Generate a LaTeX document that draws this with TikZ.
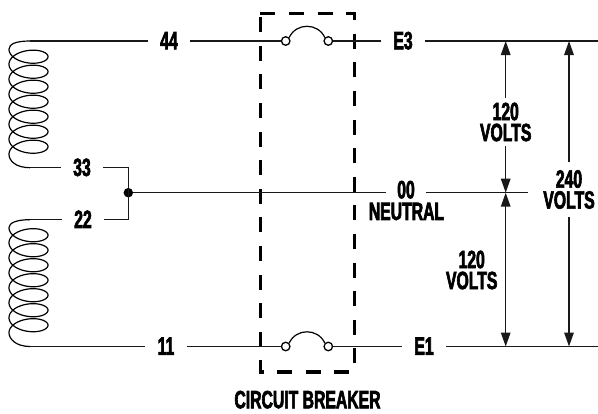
\documentclass[tikz,border=0pt]{standalone}
\usepackage{fontspec}
\usetikzlibrary{arrows.meta,calc}
\newfontfamily\lblfont[FakeStretch=0.63,FakeBold=2.5]{Liberation Sans Bold}
\tikzset{
  wire/.style={line width=1.5pt,black!90},
  coilline/.style={line width=1.2pt,black},
  lab/.style={font=\lblfont\fontsize{25}{21}\selectfont,inner ysep=0pt,inner xsep=12pt,text height=16.5pt,text depth=0pt,text=black},
  mlab/.style={font=\lblfont\fontsize{25}{21}\selectfont,inner ysep=4.5pt,inner xsep=0pt,align=center,text=black},
  contact/.style={circle,draw=black,line width=1.3pt,fill=white,minimum size=8.5pt,inner sep=0pt},
  dim/.style={line width=1.5pt,black!90},
  tipped/.style={-{Triangle[length=14pt,width=9.5pt]}},
  breaker/.style={line width=3.6pt,black,dash pattern=on 15pt off 13.6pt}
}
\begin{document}
\begin{tikzpicture}[x=1pt,y=-1pt]
\useasboundingbox (0,0) rectangle (598,413);
% dashed box
\draw[breaker] (260.3,13.3) -- (354.3,13.3) -- (354.3,372) -- (260.3,372) -- cycle;
% labels
\node[lab] (n44) at (169,41) {44};
\node[lab] (n33) at (82,167.7) {33};
\node[lab] (n22) at (83,219.7) {22};
\node[lab] (n11) at (166,346.5) {11};
\node[lab] (nE3) at (403,41) {E3};
\node[lab] (nE1) at (424,346.5) {E1};
\node[lab,inner xsep=11pt] (n00) at (406,190) {00};
\node[lab] (nNeutral) at (406.5,211.7) {NEUTRAL};
\node[lab] (nBreaker) at (307.5,400) {CIRCUIT BREAKER};
\node[mlab] (v1) at (505.7,122) {120\\VOLTS};
\node[mlab] (v2) at (471.7,270) {120\\VOLTS};
\node[mlab,inner ysep=8pt] (v3) at (569,189.5) {240\\VOLTS};
% coordinates
\coordinate (a1) at (30,41);
\coordinate (a2) at (30,167.7);
\coordinate (b1) at (30,219.7);
\coordinate (b2) at (30,346.5);
\coordinate (tee) at (128.3,167.7);
\coordinate (bee) at (128.3,219.7);
\coordinate (topend) at (598,41);
\coordinate (botend) at (598,346.5);
\coordinate (midend) at (527.7,192.7);
\coordinate (t1) at (505.7,41);
\coordinate (t2) at (569,41);
\coordinate (m1) at (505.7,192.7);
\coordinate (u1) at (505.7,346.5);
\coordinate (u2) at (569,346.5);
\node[circle,fill=black,minimum size=9.5pt,inner sep=0pt] (j) at (128.3,192.7) {};
% coils
\draw[coilline] (a1) .. controls (16,41) and (9,44) .. (9,49.2)
  -- plot[domain=0:2520,samples=400] ({28.5-19.5*cos(\x)},{49.2+\x/24+10*sin(\x)})
  .. controls (9,161) and (16,167.7) .. (a2);
\draw[coilline] (b1) .. controls (16,219.7) and (9,223) .. (9,227.7)
  -- plot[domain=0:2520,samples=400] ({28.5-19.5*cos(\x)},{227.7+\x/24+10*sin(\x)})
  .. controls (9,339) and (16,346.5) .. (b2);
% wires
\draw[wire] (a1) -- (n44.west);
\draw[wire] (n11.west) -- (b2);
\draw[wire] (a2) -- (n33.west);
\draw[wire] (n33.east) -- (tee) -- (bee) -- (n22.east);
\draw[wire] (n22.west) -- (b1);
\draw[wire] (j) -- (j -| n00.west);
\draw[wire] (j -| n00.east) -- (midend);
% contacts
\node[contact] (c1) at (285.7,41) {};
\node[contact] (c2) at (328.3,41) {};
\node[contact] (c3) at (285.7,346.5) {};
\node[contact] (c4) at (328.3,346.5) {};
\draw[wire] (n44.east) -- (c1.west);
\draw[wire] (c2.east) -- (nE3.west);
\draw[wire] (nE3.east) -- (topend);
\draw[wire] (n11.east) -- (c3.west);
\draw[wire] (c4.east) -- (nE1.west);
\draw[wire] (nE1.east) -- (botend);
% switch arcs
\draw[coilline] (c1.north east) .. controls +(7,-15) and +(-7,-15) .. (c2.north west);
\draw[coilline] (c3.north east) .. controls +(7,-15) and +(-7,-15) .. (c4.north west);
% voltage arrows
\draw[dim,tipped] (v1.north) -- (t1);
\draw[dim,tipped] (v1.south) -- (m1);
\draw[dim,{Triangle[length=14pt,width=9.5pt]}-{Triangle[length=14pt,width=9.5pt]}] (m1) -- (u1);
\draw[dim,tipped] (v3.north) -- (t2);
\draw[dim,tipped] (v3.south) -- (u2);
\end{tikzpicture}
\end{document}
